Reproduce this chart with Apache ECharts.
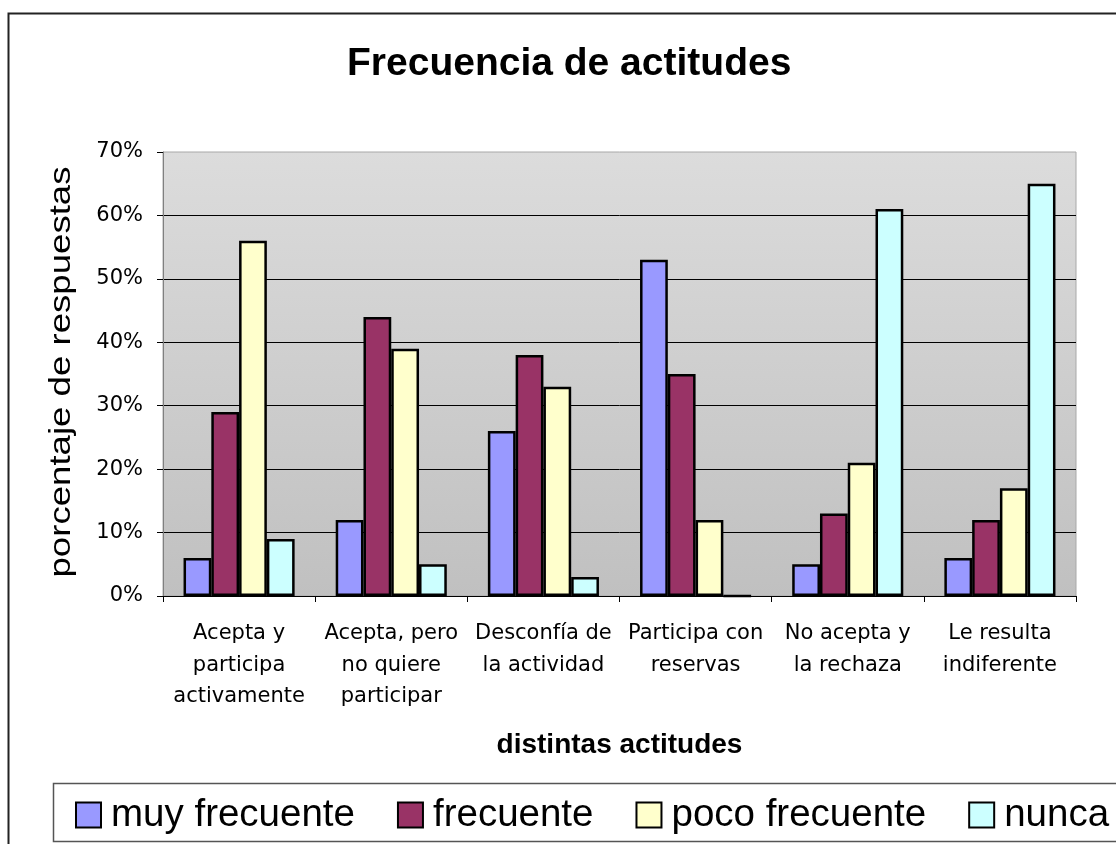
<!DOCTYPE html>
<html>
<head>
<meta charset="utf-8">
<title>Frecuencia de actitudes</title>
<script src="https://cdn.jsdelivr.net/npm/echarts@6/dist/echarts.min.js"></script>
<style>
  html, body { margin: 0; padding: 0; background: #fff; }
  #chart { width: 1116px; height: 844px; }
</style>
</head>
<body>
<div id="chart"></div>
<script>
  // categorias del eje x
  var categorias = ['Acepta y\nparticipa\nactivamente', 'Acepta, pero\nno quiere\nparticipar', 'Desconfía de\nla actividad',
    'Participa con\nreservas', 'No acepta y\nla rechaza', 'Le resulta\nindiferente']
  var seriesNames = ['muy frecuente', 'frecuente', 'poco frecuente', 'nunca']
  // valores en %
  var muyFrecuente = [6, 12, 26, 53, 5, 6]
  var frecuente = [29, 44, 38, 35, 13, 12]
  var pocoFrecuente = [56, 39, 33, 12, 21, 17]
  var nunca = [9, 5, 3, 0, 61, 65]
  var yTicks = [0, 10, 20, 30, 40, 50, 60, 70]

  var colores = ['#9999ff', '#993366', '#ffffcc', '#ccffff']
  var valores = [muyFrecuente, frecuente, pocoFrecuente, nunca]

  var labelFont = '"DejaVu Sans", Tahoma, sans-serif'
  var arial = '"Liberation Sans", Arial, sans-serif'

  function setupSeries() {
    var series = []
    valores.forEach(function (value, index) {
      series.push({
        type: 'bar',
        name: seriesNames[index],
        data: value,
        barGap: '0%',
        barCategoryGap: '27%',
        itemStyle: {color: colores[index], borderColor: '#000', borderWidth: 2.5},
        emphasis: {disabled: true}
      })
    })
    return series
  }

  var chart = echarts.init(document.getElementById('chart'), null, {renderer: 'canvas'})
  chart.setOption({
    animation: false,
    backgroundColor: '#fff',
    title: {
      text: 'Frecuencia de actitudes',
      left: 347,
      top: 41,
      padding: 0,
      textStyle: {fontFamily: arial, fontWeight: 'bold', fontSize: 39, lineHeight: 46, color: '#000'}
    },
    legend: {
      left: 75,
      top: 795,
      padding: 0,
      icon: 'rect',
      itemWidth: 25,
      itemHeight: 25,
      itemGap: 42,
      selectedMode: false,
      itemStyle: {borderWidth: 2},
      textStyle: {fontFamily: arial, fontSize: 38.5, lineHeight: 40, color: '#000', padding: [0, 0, 0, 5]}
    },
    grid: {
      left: 163,
      right: 40,
      top: 152,
      bottom: 248,
      show: true,
      borderColor: '#a8a8a8',
      borderWidth: 1,
      backgroundColor: new echarts.graphic.LinearGradient(0, 0, 0, 1, [
        {offset: 0, color: '#dcdcdc'},
        {offset: 1, color: '#c0c0c0'}
      ])
    },
    xAxis: {
      type: 'category',
      data: categorias,
      name: 'distintas actitudes',
      nameLocation: 'middle',
      nameGap: 134,
      nameTextStyle: {fontFamily: arial, fontWeight: 'bold', fontSize: 28, lineHeight: 30, color: '#000'},
      axisLine: {lineStyle: {color: '#000', width: 1}},
      axisTick: {show: true, length: 6, interval: 0, lineStyle: {color: '#000'}},
      axisLabel: {interval: 0, margin: 22, fontFamily: labelFont, fontSize: 21, lineHeight: 31.5, color: '#000'}
    },
    yAxis: {
      type: 'value',
      min: 0,
      max: 70,
      interval: 10,
      axisLine: {show: true, lineStyle: {color: '#808080', width: 1}},
      axisTick: {show: true, length: 6, lineStyle: {color: '#000'}},
      axisLabel: {margin: 20, fontFamily: labelFont, fontSize: 21, color: '#000', formatter: '{value}%'},
      splitLine: {show: true, showMaxLine: false, lineStyle: {color: '#000', width: 1}}
    },
    graphic: [
      // marco exterior
      {type: 'rect', z: -10, shape: {x: 8.5, y: 13.5, width: 1200, height: 900}, style: {fill: 'none', stroke: '#222', lineWidth: 2}},
      // caja de la leyenda
      {type: 'rect', z: -5, shape: {x: 53.5, y: 783.5, width: 1200, height: 58}, style: {fill: '#fff', stroke: '#555', lineWidth: 1.5}},
      // titulo eje y
      {
        type: 'text', x: 62, y: 372, rotation: Math.PI / 2, scaleX: 1.22,
        style: {text: 'porcentaje de respuestas', fontFamily: arial, fontSize: 30, align: 'center', verticalAlign: 'middle', fill: '#000'}
      }
    ],
    series: setupSeries()
  })
</script>
</body>
</html>
